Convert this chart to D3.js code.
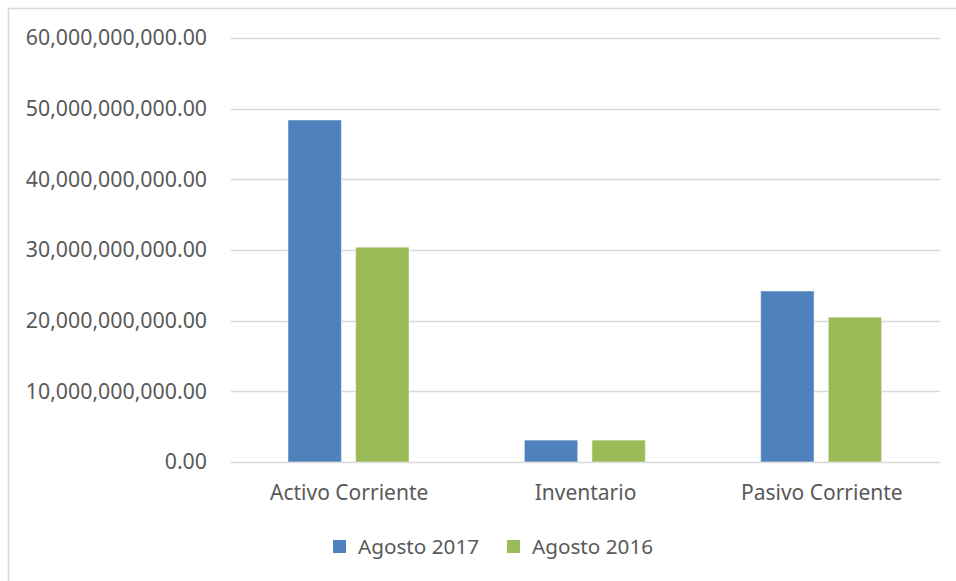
<!DOCTYPE html>
<html>
<head>
<meta charset="utf-8">
<script src="https://cdn.jsdelivr.net/npm/d3@7"></script>
<style>
  html, body { margin: 0; padding: 0; background: #fff; }
  svg { display: block; font-family: "Noto Sans", "Open Sans", sans-serif; }
</style>
</head>
<body>
<div id="chart"></div>
<script>
// chart values
const categories = ["Activo Corriente", "Inventario", "Pasivo Corriente"];
const seriesNames = ["Agosto 2017", "Agosto 2016"];
const agosto2017 = [48.4e9, 3.1e9, 24.2e9];
const agosto2016 = [30.4e9, 3.1e9, 20.5e9];
const yTicks = [0, 10e9, 20e9, 30e9, 40e9, 50e9, 60e9];

const colors = { "Agosto 2017": "#4F81BD", "Agosto 2016": "#9BBB59" };
const values = { "Agosto 2017": agosto2017, "Agosto 2016": agosto2016 };

const W = 956, H = 581;
const svg = d3.select("#chart").append("svg").attr("width", W).attr("height", H);

// outer chart border (right/bottom fall outside the picture)
svg.append("rect")
  .attr("x", 8.5).attr("y", 8.5)
  .attr("width", W + 10).attr("height", H + 10)
  .attr("fill", "none").attr("stroke", "#D9D9D9").attr("stroke-width", 1.5);

const plotL = 231, plotR = 940;
const y = d3.scaleLinear().domain([0, 60e9]).range([462, 38]);
const x = d3.scaleBand().domain(categories).range([plotL, plotR]);
const xs = d3.scaleBand().domain(seriesNames).range([57, 178]).paddingInner(0.21);

// gridlines
svg.append("g").selectAll("line").data(yTicks).join("line")
  .attr("x1", plotL).attr("x2", plotR)
  .attr("y1", d => Math.round(y(d)) + 0.5).attr("y2", d => Math.round(y(d)) + 0.5)
  .attr("stroke", "#D9D9D9").attr("stroke-width", 1.5);

// y labels
const fmt = d3.format(",.2f");
svg.append("g").selectAll("text").data(yTicks).join("text")
  .attr("x", 207).attr("y", d => y(d))
  .attr("dy", "0.35em")
  .attr("text-anchor", "end")
  .attr("font-size", 21.3)
  .attr("fill", "#595959")
  .text(d => fmt(d));

// bars
const flat = [];
categories.forEach((c, i) => seriesNames.forEach(s => flat.push({ cat: c, s, v: values[s][i] })));
svg.append("g").selectAll("rect").data(flat).join("rect")
  .attr("x", d => x(d.cat) + xs(d.s))
  .attr("y", d => y(d.v))
  .attr("width", xs.bandwidth())
  .attr("height", d => y(0) - y(d.v))
  .attr("fill", d => colors[d.s])
  .attr("stroke", "#fff").attr("stroke-opacity", 0.5).attr("stroke-width", 1);

// category labels
svg.append("g").selectAll("text").data(categories).join("text")
  .attr("x", d => x(d) + x.bandwidth() / 2)
  .attr("y", 500)
  .attr("text-anchor", "middle")
  .attr("font-size", 21)
  .attr("fill", "#595959")
  .text(d => d);

// legend
const legX = [333, 507];
const leg = svg.append("g").selectAll("g").data(seriesNames).join("g")
  .attr("transform", (d, i) => `translate(${legX[i]},540)`);
leg.append("rect").attr("width", 13).attr("height", 13).attr("fill", d => colors[d]);
leg.append("text").attr("x", 25).attr("y", 13.5)
  .attr("font-size", 20.7).attr("fill", "#595959").text(d => d);
</script>
</body>
</html>
